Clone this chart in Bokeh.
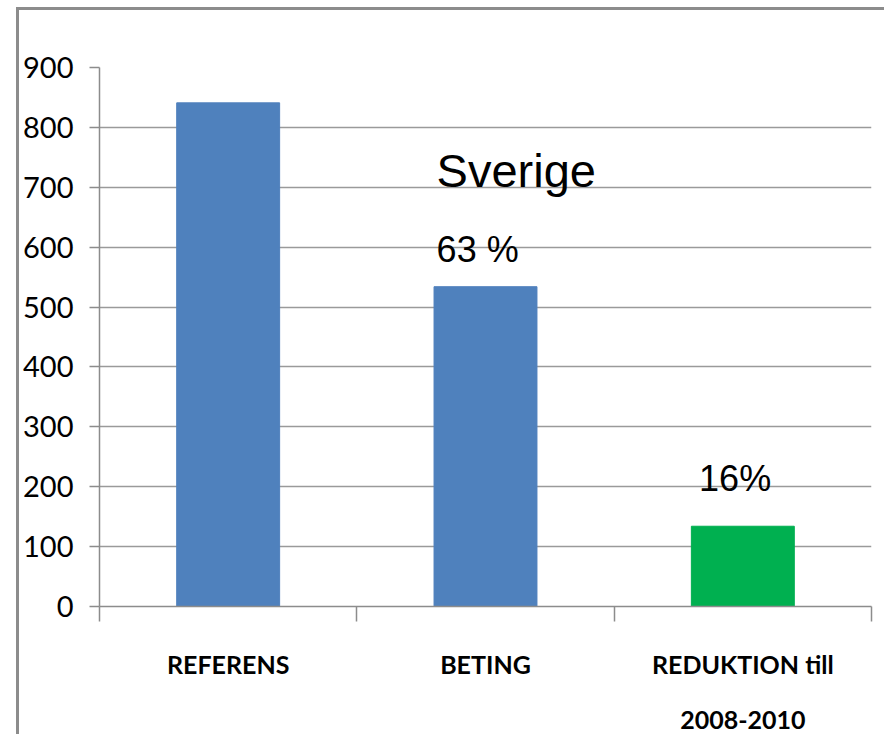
from bokeh.plotting import figure
from bokeh.models import Range1d, FixedTicker, ColumnDataSource, Spacer
from bokeh.layouts import row, column
from bokeh.core.properties import value
from bokeh.embed import file_html
from bokeh.resources import INLINE

categories = ["REFERENS", "BETING", "REDUKTION till\n2008-2010"]
values = [841, 534, 134]
colors = ["#4F81BD", "#4F81BD", "#00B050"]
y_ticks = [0, 100, 200, 300, 400, 500, 600, 700, 800, 900]

ann_text = ["Sverige", "63 %", "16%"]
ann_x = [1.31, 1.31, 2.33]
ann_y = [728, 596, 214]
ann_size = ["47px", "36px", "36px"]

centers = [i + 0.5 for i in range(len(categories))]
bounds = [i for i in range(len(categories) + 1)]

p = figure(frame_width=769, frame_height=536, output_backend="svg", toolbar_location=None,
           x_range=Range1d(0, len(categories)), y_range=Range1d(0, 900),
           min_border_left=80, min_border_right=16, min_border_top=57, min_border_bottom=125)
p.outline_line_color = None
p.background_fill_color = "white"
p.border_fill_color = "white"
p.styles = {"border-top": "3px solid #8c8c8c", "border-left": "3px solid #8c8c8c"}

src = ColumnDataSource(dict(x=centers, top=values, color=colors))
p.vbar(x="x", top="top", width=0.4, bottom=0, color="color", source=src)

p.text(x=ann_x, y=ann_y, text=ann_text, text_font_size=ann_size,
       text_font=value("Liberation Sans"), text_color="black",
       text_baseline="alphabetic", text_align="left")

# y axis
p.yaxis.ticker = FixedTicker(ticks=y_ticks)
p.yaxis.axis_line_color = "#8c8c8c"
p.yaxis.axis_line_width = 1.5
p.yaxis.major_tick_line_color = "#8c8c8c"
p.yaxis.major_tick_line_width = 1.5
p.yaxis.major_tick_out = 10
p.yaxis.major_tick_in = 0
p.yaxis.minor_tick_line_color = None
p.yaxis.major_label_text_font = "Lato"
p.yaxis.major_label_text_font_size = "29px"
p.yaxis.major_label_text_color = "black"
p.yaxis.major_label_standoff = 16

# x axis
p.xaxis.ticker = FixedTicker(ticks=centers, minor_ticks=bounds)
p.xaxis.major_label_overrides = {c: lab for c, lab in zip(centers, categories)}
p.xaxis.axis_line_color = "#8c8c8c"
p.xaxis.axis_line_width = 1.5
p.xaxis.major_tick_line_color = None
p.xaxis.major_tick_out = 0
p.xaxis.major_tick_in = 0
p.xaxis.minor_tick_line_color = "#8c8c8c"
p.xaxis.minor_tick_line_width = 1.5
p.xaxis.minor_tick_out = 15
p.xaxis.minor_tick_in = 0
p.xaxis.major_label_text_font = "Lato"
p.xaxis.major_label_text_font_style = "bold"
p.xaxis.major_label_text_font_size = "25px"
p.xaxis.major_label_text_color = "black"
p.xaxis.major_label_text_line_height = 1.85
p.xaxis.major_label_standoff = 27

p.xgrid.grid_line_color = None
p.ygrid.ticker = FixedTicker(ticks=y_ticks)
p.ygrid.grid_line_color = "#9a9a9a"
p.ygrid.grid_line_width = 1.5

layout = row(Spacer(width=16, height=10), column(Spacer(width=10, height=7), p))
open("out.html", "w").write(file_html(layout, INLINE))
